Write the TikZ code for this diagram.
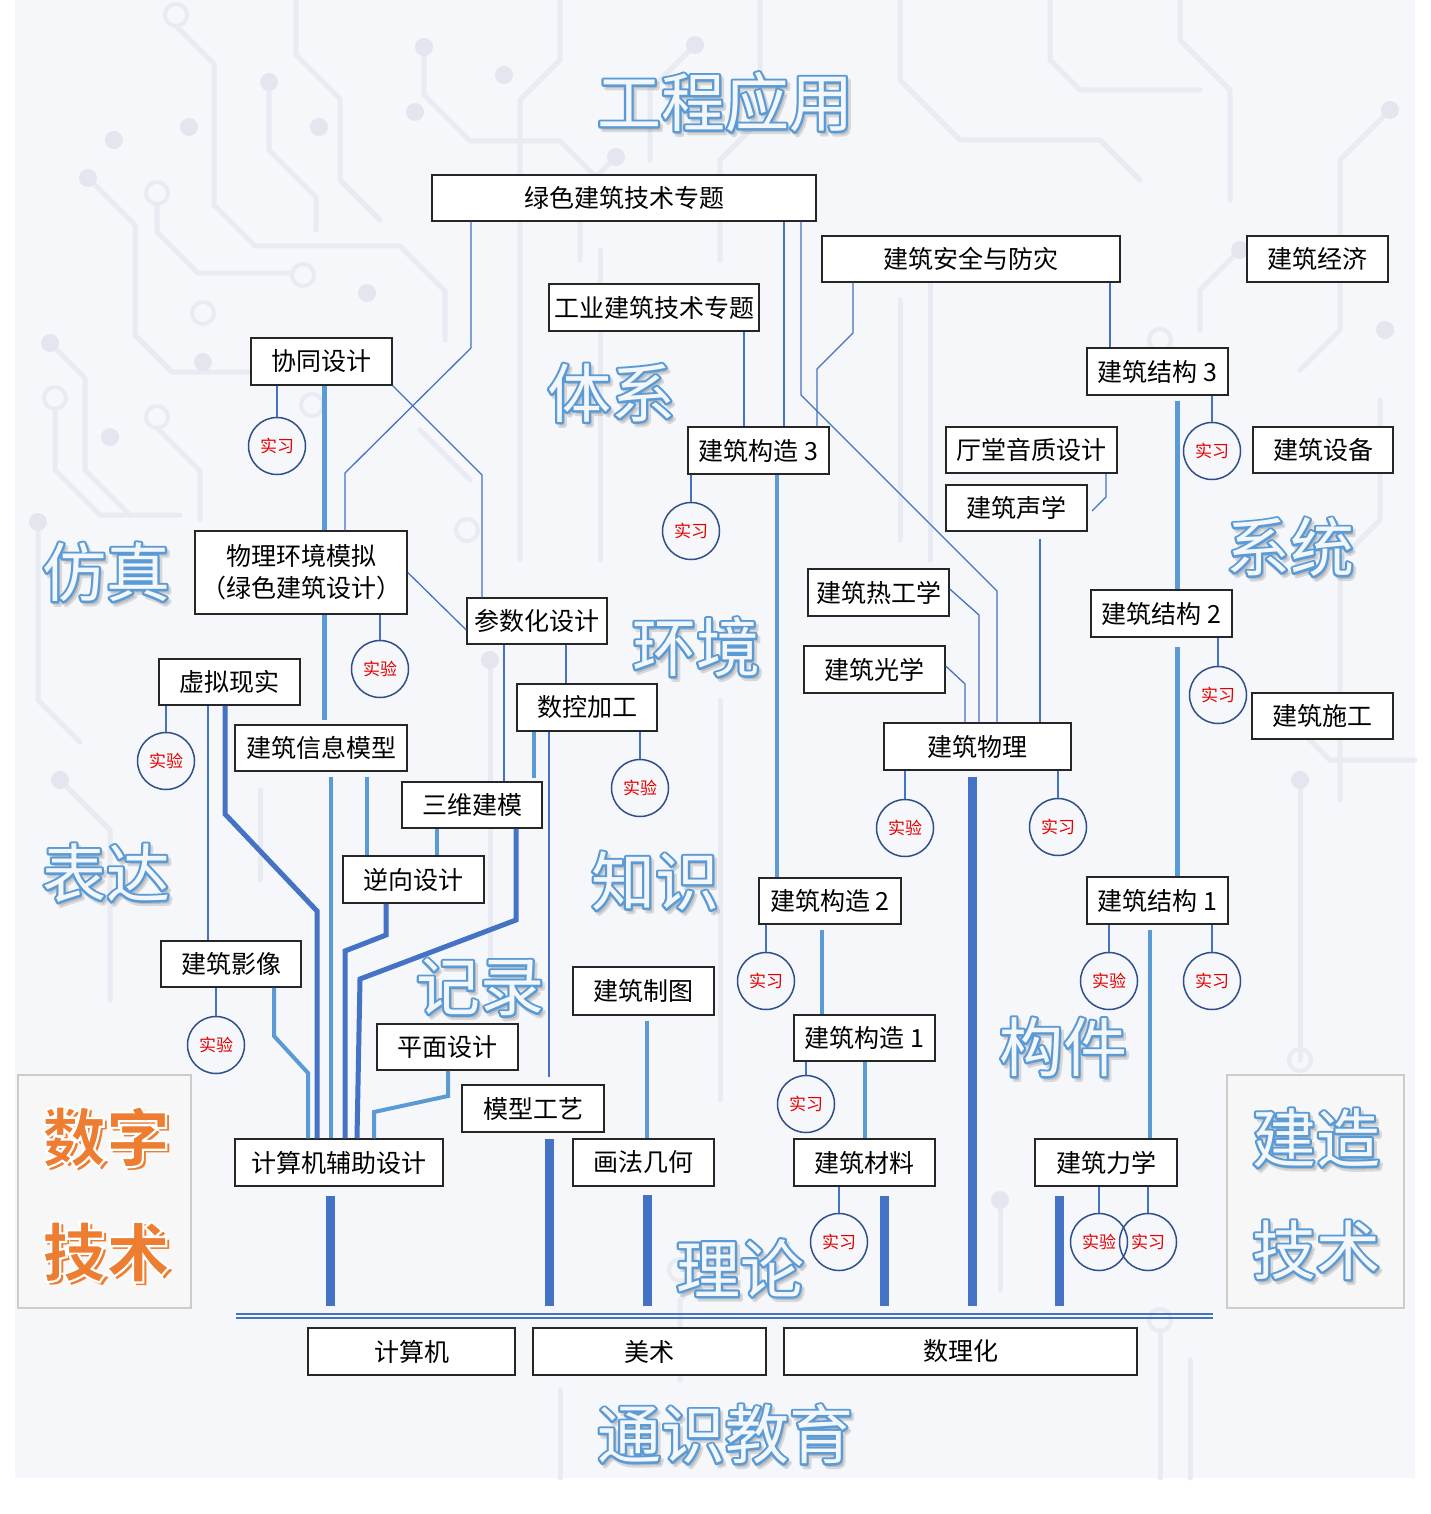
\documentclass[tikz,border=0pt]{standalone}
\usepackage{fontspec}
\newfontfamily\cjk{Noto Sans CJK SC}
\definecolor{lb}{HTML}{5B9BD5}
\definecolor{db}{HTML}{4472C4}
\definecolor{cb}{HTML}{2F4F8A}
\definecolor{bgc}{HTML}{F6F7FA}
\definecolor{trc}{HTML}{E8EBF2}
\definecolor{dotc}{HTML}{E3E6EF}
\definecolor{org}{HTML}{ED7D31}
\definecolor{bigb}{HTML}{5B9BD5}
\definecolor{bigf}{HTML}{F3F7FC}
\tikzset{
 box/.style={draw=black!85, line width=0.75pt, fill=white, inner sep=0pt, font=\cjk\fontsize{12.5}{16}\selectfont, align=center},
 ring/.style={draw=cb, line width=0.75pt, circle, minimum size=28.5pt, inner sep=0pt, font=\cjk\fontsize{8.5}{10}\selectfont, text=red!90!black},
 thinline/.style={draw=db, line width=0.65pt},
 midline/.style={draw=lb, line width=2pt},
 darkline/.style={draw=db, line width=2.5pt},
 barline/.style={draw=db, line width=4.5pt},
 big/.style={font=\cjk\fontsize{32}{36}\selectfont, inner sep=0pt},
 bigbold/.style={font=\cjk\bfseries\fontsize{32}{36}\selectfont, inner sep=0pt},
 trace/.style={draw=trc, line width=2.5pt, line join=round, line cap=round},
 bgring/.style={draw=trc, line width=2pt},
 bgdot/.style={fill=dotc},
 panel/.style={draw=black!20, line width=0.8pt, fill=white!97!black},
}
\newcommand\bx[6]{%
 \pgfmathsetmacro\bxcx{(#2+#4)/2}%
 \pgfmathsetmacro\bxcy{(#3+#5)/2}%
 \pgfmathsetmacro\bxw{(#4-#2)/2}%
 \pgfmathsetmacro\bxh{(#5-#3)/2}%
 \node[box, minimum width=\bxw pt, minimum height=\bxh pt] (#1) at (\bxcx,\bxcy) {#6};}
% outlined word: soft shadow, blue stroke layer, light fill layer
\newcommand\bigblue[3]{%
 \node[big, text=black, text opacity=0.12, shift={(1.4pt,-1.7pt)}] (#1s) at (#2) {\special{pdf:literal direct 2 Tr 2.2 w 1 j}#3\special{pdf:literal direct 0 Tr 0 j}};
 \node[big, text=bigb] (#1o) at (#2) {\special{pdf:literal direct 1 Tr 2.2 w 1 j}#3\special{pdf:literal direct 0 Tr 0 j}};
 \node[big, text=bigf] (#1) at (#2) {#3};}
\newcommand\bigorange[3]{%
 \node[bigbold, text=org, shift={(1.6pt,-1.6pt)}] (#1s) at (#2) {#3};
 \node[bigbold, text=org] (#1) at (#2) {\special{pdf:literal direct 2 Tr 1.1 w 1 1 1 RG}#3\special{pdf:literal direct 0 Tr}};}
\begin{document}
\begin{tikzpicture}[x=0.5pt,y=-0.5pt]
\useasboundingbox (0,0) rectangle (1430,1514);
\fill[white] (0,0) rectangle (1430,1514);
\fill[bgc] (15,0) rectangle (1415,1478);
% ---------- background circuit traces ----------
\draw[trace] (176,26) -- (214,64) -- (214,205) -- (255,246) -- (400,246) -- (445,291) -- (445,340);
\draw[trace] (157,204) -- (157,232) -- (198,273) -- (292,273);
\draw[trace] (88,178) -- (135,225) -- (135,335) -- (172,372) -- (300,372);
\draw[trace] (50,343) -- (85,378) -- (85,470) -- (130,515);
\draw[trace] (269,82) -- (269,150) -- (316,197) -- (316,230);
\draw[trace] (424,47) -- (424,95) -- (470,141) -- (560,141) -- (600,181);
\draw[trace] (296,0) -- (296,55) -- (340,99) -- (340,180) -- (380,220);
\draw[trace] (560,0) -- (560,60) -- (520,100) -- (520,560);
\draw[trace] (695,45) -- (650,90) -- (650,160);
\draw[trace] (616,157) -- (580,193) -- (580,260);
\draw[trace] (760,0) -- (760,120) -- (720,160) -- (720,260);
\draw[trace] (900,0) -- (900,80) -- (960,140) -- (1100,140) -- (1140,180);
\draw[trace] (1050,0) -- (1050,60) -- (1080,90) -- (1200,90);
\draw[trace] (1390,110) -- (1340,160) -- (1340,330) -- (1300,370);
\draw[trace] (1180,0) -- (1180,40) -- (1230,90) -- (1230,200);
\draw[trace] (55,409) -- (55,470) -- (100,515) -- (180,515);
\draw[trace] (157,428) -- (200,471) -- (200,520);
\draw[trace] (38,522) -- (38,700) -- (80,742);
\draw[trace] (60,780) -- (110,830) -- (110,1000);
\draw[trace] (490,660) -- (490,1000);
\draw[trace] (600,250) -- (600,560);
\draw[trace] (720,700) -- (720,1100);
\draw[trace] (900,300) -- (900,540);
\draw[trace] (930,250) -- (930,560);
\draw[trace] (1300,780) -- (1300,1060);
\draw[trace] (1380,400) -- (1380,520) -- (1340,560) -- (1340,800);
\draw[trace] (1415,760) -- (1330,760) -- (1290,720);
\draw[trace] (1000,1200) -- (1000,1290);
\draw[trace] (1160,1330) -- (1160,1478);
\draw[trace] (1190,1360) -- (1190,1478);
\draw[trace] (560,1390) -- (560,1478);
\draw[trace] (700,1280) -- (680,1300) -- (680,1380);
\draw[trace] (260,790) -- (260,880);
\draw[trace] (420,430) -- (470,480);
\draw[trace] (1240,250) -- (1200,290) -- (1200,330);
\foreach \n/\x/\y in {r1/176/15, r2/157/193, r3/303/275, r4/203/313, r5/55/398, r6/157/417, r7/312/405, r8/467/530, r9/1160/340, r10/1300/1060, r11/1160/1320, r12/680/1270}{\node[bgring, circle, minimum size=11pt, inner sep=0pt] (\n) at (\x,\y) {};}
\foreach \n/\x/\y in {d1/88/178, d2/50/343, d3/269/82, d4/424/47, d5/504/75, d6/415/112, d7/189/127, d8/114/140, d9/319/127, d10/367/293, d11/616/157, d12/695/45, d13/203/362, d14/110/437, d15/38/522, d16/1390/110, d17/1385/330, d18/1240/250, d19/1300/780, d20/60/780, d21/490/660, d22/1000/1200}{\node[bgdot, circle, minimum size=9pt, inner sep=0pt] (\n) at (\x,\y) {};}
% ---------- side panels ----------
\node[panel, minimum width=86.5pt, minimum height=116.5pt, inner sep=0pt] (lpanel) at (104.5,1191.5) {};
\node[panel, minimum width=88.5pt, minimum height=116.5pt, inner sep=0pt] (rpanel) at (1315.5,1191.5) {};
% ---------- big decorative words ----------
\bigblue{gcyy}{725,102}{工程应用}
\bigblue{tixi}{611,393}{体系}
\bigblue{fzh}{106,572}{仿真}
\bigblue{hjing}{696,647}{环境}
\bigblue{xitong}{1290,547}{系统}
\bigblue{biaoda}{106,873}{表达}
\bigblue{zhishi}{655,881}{知识}
\bigblue{jilu}{480,987}{记录}
\bigblue{goujian}{1063,1047}{构件}
\bigblue{lilun}{740,1268}{理论}
\bigblue{tsjy}{725,1434}{通识教育}
\bigblue{jzao}{1316,1138}{建造}
\bigblue{jshu}{1316,1250}{技术}
\bigorange{shuzi}{106,1137}{数字}
\bigorange{jishu}{106,1252}{技术}
% ---------- boxes ----------
\bx{lvse}{432}{175}{816}{221}{绿色建筑技术专题}
\bx{gy}{549}{284}{759}{331}{工业建筑技术专题}
\bx{aq}{822}{236}{1120}{282}{建筑安全与防灾}
\bx{jj}{1247}{236}{1388}{282}{建筑经济}
\bx{xt}{251}{338}{392}{385}{协同设计}
\bx{jg3}{1087}{348}{1228}{395}{建筑结构 3}
\bx{gz3}{688}{427}{829}{474}{建筑构造 3}
\bx{tt}{946}{427}{1117}{473}{厅堂音质设计}
\bx{sx}{946}{485}{1087}{531}{建筑声学}
\bx{sb}{1253}{427}{1393}{473}{建筑设备}
\bx{wlhj}{195}{531}{407}{614}{物理环境模拟\\（绿色建筑设计）}
\bx{csh}{467}{598}{607}{644}{参数化设计}
\bx{rg}{808}{569}{949}{616}{建筑热工学}
\bx{gx}{804}{646}{945}{693}{建筑光学}
\bx{jg2}{1091}{590}{1232}{637}{建筑结构 2}
\bx{sg}{1252}{693}{1393}{739}{建筑施工}
\bx{xnxs}{159}{659}{300}{705}{虚拟现实}
\bx{xxmx}{235}{725}{407}{771}{建筑信息模型}
\bx{skjg}{517}{684}{657}{731}{数控加工}
\bx{swjm}{402}{782}{542}{828}{三维建模}
\bx{nx}{343}{856}{484}{903}{逆向设计}
\bx{wl}{884}{723}{1071}{770}{建筑物理}
\bx{gz2}{759}{878}{901}{924}{建筑构造 2}
\bx{jg1}{1087}{877}{1228}{924}{建筑结构 1}
\bx{jzyx}{161}{941}{301}{987}{建筑影像}
\bx{zt}{573}{967}{714}{1015}{建筑制图}
\bx{pm}{377}{1024}{518}{1070}{平面设计}
\bx{gz1}{794}{1015}{935}{1061}{建筑构造 1}
\bx{mxgy}{462}{1085}{604}{1132}{模型工艺}
\bx{cad}{235}{1139}{443}{1186}{计算机辅助设计}
\bx{hf}{573}{1139}{714}{1186}{画法几何}
\bx{cl}{794}{1139}{935}{1186}{建筑材料}
\bx{lx}{1035}{1139}{1177}{1186}{建筑力学}
\bx{jsj}{308}{1328}{515}{1375}{计算机}
\bx{ms}{533}{1328}{766}{1375}{美术}
\bx{slh}{784}{1328}{1137}{1375}{数理化}
% ---------- connectors ----------
\coordinate (base) at (0,1306);
\coordinate (bl) at (236,1314);
\coordinate (br) at (1213,1314);
\coordinate (tthook) at (1092,511);
% thin lines
\draw[thinline] (471,0 |- lvse.south) -- (471,348) -- (345,473) -- (345,0 |- wlhj.north);
\draw[thinline] (xt.south east) -- (482,475) -- (482,0 |- csh.north);
\draw[thinline] (wlhj.east) -- (csh.west |- 0,630);
\draw[thinline] (504,0 |- csh.south) -- (504,0 |- swjm.north);
\draw[thinline] (566,0 |- csh.south) -- (566,0 |- skjg.north);
\draw[thinline, shorten >=3.5pt] (549,0 |- skjg.south) -- (549,0 |- mxgy.north);
\draw[thinline] (208,0 |- xnxs.south) -- (208,0 |- jzyx.north);
\draw[thinline] (744,0 |- gy.south) -- (744,0 |- gz3.north);
\draw[thinline] (784,0 |- lvse.south) -- (784,0 |- gz3.north);
\draw[thinline] (801,0 |- lvse.south) -- (801,395) -- (997,591) -- (997,0 |- wl.north);
\draw[thinline] (853,0 |- aq.south) -- (853,333) -- (817,369) -- (817,0 |- gz3.north);
\draw[thinline] (1110,0 |- aq.south) -- (1110,0 |- jg3.north);
\draw[thinline] (1106,0 |- tt.south) -- (1106,497) -- (tthook);
\draw[thinline, shorten <=3.5pt] (1040,0 |- sx.south) -- (1040,0 |- wl.north);
\draw[thinline] (rg.east |- 0,589) -- (979,615) -- (979,0 |- wl.north);
\draw[thinline] (gx.east |- 0,666) -- (965,684) -- (965,0 |- wl.north);
% medium light-blue lines
\draw[midline, line width=2.5pt] (324,0 |- xt.south) -- (324,0 |- wlhj.north);
\draw[midline, line width=2.5pt, shorten >=2pt] (324,0 |- wlhj.south) -- (324,0 |- xxmx.north);
\draw[midline, shorten <=2.5pt] (331,0 |- xxmx.south) -- (331,0 |- cad.north);
\draw[midline, line width=1.6pt, shorten <=2.5pt] (367,0 |- xxmx.south) -- (367,0 |- nx.north);
\draw[midline, line width=1.6pt] (437,0 |- swjm.south) -- (437,0 |- nx.north);
\draw[midline] (274,0 |- jzyx.south) -- (274,1036) -- (308,1073) -- (308,0 |- cad.north);
\draw[midline] (448,0 |- pm.south) -- (448,1096) -- (374,1112) -- (374,0 |- cad.north);
\draw[midline, line width=1.6pt, shorten >=1.5pt] (534,0 |- skjg.south) -- (534,0 |- swjm.north);
\draw[midline, line width=2.2pt] (777,0 |- gz3.south) -- (777,0 |- gz2.north);
\draw[midline, shorten <=2.5pt] (822,0 |- gz2.south) -- (822,0 |- gz1.north);
\draw[midline] (865,0 |- gz1.south) -- (865,0 |- cl.north);
\draw[midline, line width=2.5pt, shorten <=2.5pt] (1177,0 |- jg3.south) -- (1177,0 |- jg2.north);
\draw[midline, line width=2.5pt, shorten <=4.5pt] (1177,0 |- jg2.south) -- (1177,0 |- jg1.north);
\draw[midline, shorten <=2.5pt] (1150,0 |- jg1.south) -- (1150,0 |- lx.north);
\draw[midline, shorten <=2.5pt] (647,0 |- zt.south) -- (647,0 |- hf.north);
% medium dark-blue lines
\draw[darkline] (225,0 |- xnxs.south) -- (225,814) -- (317,911) -- (317,0 |- cad.north);
\draw[darkline] (386,0 |- nx.south) -- (386,935) -- (345,951) -- (345,0 |- cad.north);
\draw[darkline] (516,0 |- swjm.south) -- (516,920) -- (360,979) -- (357,0 |- cad.north);
% thick bars
\draw[barline, shorten <=4.5pt] (330,0 |- cad.south) -- (330,0 |- base);
\draw[barline, shorten <=3pt] (549,0 |- mxgy.south) -- (549,0 |- base);
\draw[barline, shorten <=4pt] (647,0 |- hf.south) -- (647,0 |- base);
\draw[barline, shorten <=4.5pt] (884,0 |- cl.south) -- (884,0 |- base);
\draw[barline, shorten <=3pt] (972,0 |- wl.south) -- (972,0 |- base);
\draw[barline, shorten <=4.5pt] (1059,0 |- lx.south) -- (1059,0 |- base);
\draw[db, line width=1.3pt] (bl) -- (br);
\draw[db, line width=1pt] ([yshift=-2pt]bl) -- ([yshift=-2pt]br);
% ---------- practice / experiment circles ----------
\foreach \n/\x/\y/\t/\p in {c1/277/446/实习/xt, c2/691/531/实习/gz3, c3/1212/451/实习/jg3, c4/380/669/实验/wlhj, c5/166/761/实验/xnxs, c6/640/788/实验/skjg, c7/1218/695/实习/jg2, c8/905/828/实验/wl, c9/1058/827/实习/wl, c10/766/981/实习/gz2, c11/1109/981/实验/jg1, c12/1212/981/实习/jg1, c13/216/1045/实验/jzyx, c14/806/1104/实习/gz1, c15/839/1242/实习/cl, c16/1099/1242/实验/lx, c17/1148/1242/实习/lx}{
 \node[ring] (\n) at (\x,\y) {\t};
 \draw[thinline] (\n.north |- \p.south) -- (\n.north);
}
\end{tikzpicture}
\end{document}
